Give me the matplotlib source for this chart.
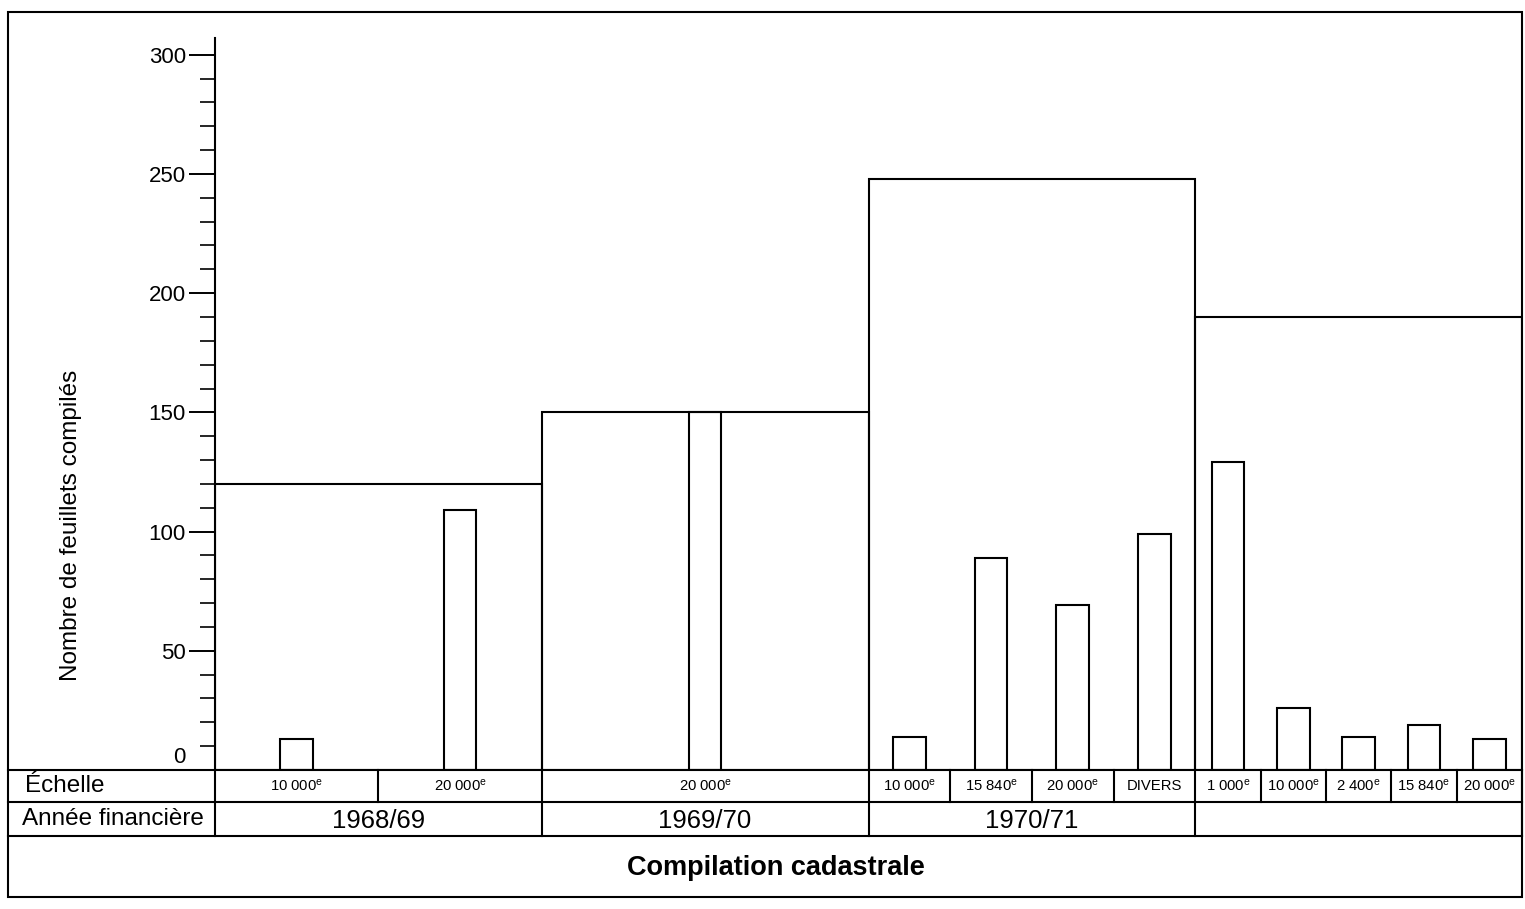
import matplotlib
matplotlib.use('Agg')

import matplotlib.pyplot as plt
from matplotlib.ticker import MultipleLocator
from matplotlib.patches import Rectangle
from matplotlib.transforms import ScaledTranslation

plt.rcParams['font.family'] = ['Liberation Sans', 'DejaVu Sans']
plt.rcParams['mathtext.fontset'] = 'custom'
plt.rcParams['mathtext.rm'] = 'Liberation Sans'
plt.rcParams['mathtext.it'] = 'Liberation Sans:italic'
plt.rcParams['mathtext.bf'] = 'Liberation Sans:bold'

# data
years = ['1968/69', '1969/70', '1970/71', '']
totals = [120, 150, 248, 190]
scales = [
    ['10 000e', '20 000e'],
    ['20 000e'],
    ['10 000e', '15 840e', '20 000e', 'DIVERS'],
    ['1 000e', '10 000e', '2 400e', '15 840e', '20 000e'],
]
values = [
    [13, 109],
    [150],
    [14, 89, 69, 99],
    [129, 26, 14, 19, 13],
]

W, H = 1525, 909
fig = plt.figure(figsize=(W / 100, H / 100), dpi=100)

# main plot area (pixel layout of the scan)
ax_l, ax_r, ax_t, ax_b = 215, 1522, 38, 770
ax = fig.add_axes([ax_l / W, 1 - ax_b / H, (ax_r - ax_l) / W, (ax_b - ax_t) / H])
ax.set_xlim(0, len(years))
ax.set_ylim(0, 307)

lw = 1.5
# step outline of yearly totals
ax.bar(range(len(years)), totals, width=1, align='edge', fill=False,
       edgecolor='black', linewidth=lw)

# bars per scale inside each year
for i, vals in enumerate(values):
    n = len(vals)
    xs = [i + (j + 0.5) / n for j in range(n)]
    ax.bar(xs, vals, width=0.1, fill=False, edgecolor='black', linewidth=lw)

for s in ['top', 'right', 'bottom']:
    ax.spines[s].set_visible(False)
ax.spines['left'].set_linewidth(lw)
ax.set_xticks([])
ax.set_yticks(range(0, 301, 50))
ax.yaxis.set_minor_locator(MultipleLocator(10))
ax.tick_params(axis='y', which='major', length=19, width=1.4, labelsize=16, pad=2)
ax.tick_params(axis='y', which='minor', length=11, width=1.2)
# the "0" sits a little above the baseline in the original
lab0 = ax.get_yticklabels()[0]
lab0.set_transform(lab0.get_transform() + ScaledTranslation(0, 11 / 72, fig.dpi_scale_trans))
ax.set_ylabel('Nombre de feuillets compilés', fontsize=17.5)
ax.yaxis.set_label_coords((82 - ax_l) / (ax_r - ax_l), (ax_b - 525) / (ax_b - ax_t))

# table under the chart, shares x with the plot
tab_bot = 897
tab = fig.add_axes([ax_l / W, 1 - tab_bot / H, (ax_r - ax_l) / W, (tab_bot - ax_b) / H],
                   sharex=ax)
tab.set_ylim(tab_bot - ax_b, 0)
tab.axis('off')

px = (ax_r - ax_l) / len(years)
x_left = (8 - ax_l) / px
row1, row2 = 32, 66

def hline(y, x0, x1):
    tab.plot([x0, x1], [y, y], color='black', lw=lw, clip_on=False)

def vline(x, y0, y1):
    tab.plot([x, x], [y0, y1], color='black', lw=lw, clip_on=False)

hline(0, x_left, len(years))
hline(row1, x_left, len(years))
hline(row2, x_left, len(years))
vline(0, 0, row2)

tab.text(x_left + 17 / px, row1 / 2, 'Échelle', fontsize=17.5, va='center', ha='left')
tab.text(x_left + 14 / px, (row1 + row2) / 2, 'Année financière', fontsize=17.5,
         va='center', ha='left')

for i, (yr, labs) in enumerate(zip(years, scales)):
    n = len(labs)
    vline(i + 1, 0, row2)
    for j, lab in enumerate(labs):
        if j > 0:
            vline(i + j / n, 0, row1)
        txt = lab[:-1] + r'$^{\mathrm{e}}$' if lab.endswith('e') else lab
        tab.text(i + (j + 0.5) / n, row1 / 2, txt, fontsize=10.7,
                 ha='center', va='center')
    if yr:
        tab.text(i + 0.5, (row1 + row2) / 2 + 2, yr, fontsize=18.5,
                 ha='center', va='center')

fig.text(776 / W, 1 - 868 / H, 'Compilation cadastrale', fontsize=19.5,
         fontweight='bold', ha='center', va='center')

# outer frame
fig.add_artist(Rectangle((8 / W, 1 - 897 / H), (1522 - 8) / W, (897 - 12) / H,
                         transform=fig.transFigure, fill=False,
                         edgecolor='black', linewidth=lw))

fig.savefig('out.png', dpi=100)
